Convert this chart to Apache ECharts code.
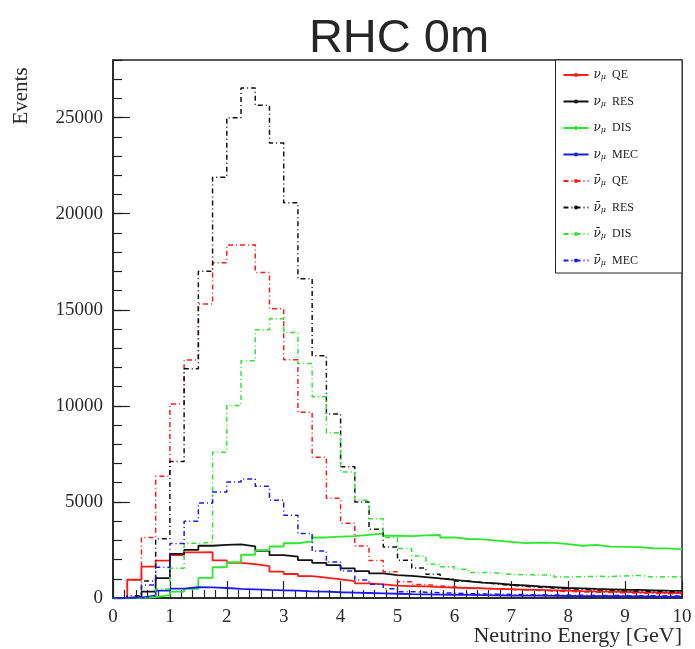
<!DOCTYPE html>
<html>
<head>
<meta charset="utf-8">
<script src="https://cdn.jsdelivr.net/npm/echarts/dist/echarts.min.js"></script>
<style>
  html, body { margin: 0; padding: 0; background: #ffffff; }
  #chart { width: 695px; height: 649px; }
</style>
</head>
<body>
<div id="chart"></div>
<script>
// Histogram binning: 40 bins of 0.25 GeV between 0 and 10 GeV
const BIN_WIDTH = 0.25;
const X_MIN = 0;
const X_MAX = 10;

// Event counts per bin, neutrino (solid) components
const numuQE = [0, 950, 1630, 1950, 2230, 2370, 2380, 1960, 1830, 1760,
  1660, 1370, 1250, 1140, 1055, 970, 880, 760, 710, 640,
  620, 600, 570, 540, 520, 500, 480, 460, 440, 420,
  400, 380, 360, 350, 330, 320, 300, 290, 270, 260];
const numuRES = [0, 60, 330, 1030, 2300, 2500, 2720, 2760, 2790, 2690,
  2460, 2230, 2150, 1970, 1830, 1710, 1540, 1400, 1280, 1190,
  1150, 1090, 1020, 940, 860, 800, 760, 690, 650, 600,
  560, 520, 500, 470, 450, 430, 420, 400, 380, 370];
const numuDIS = [0, 10, 50, 150, 330, 480, 1050, 1600, 1860, 2250,
  2480, 2680, 2850, 2950, 3150, 3190, 3220, 3290, 3350, 3240,
  3220, 3260, 3280, 3150, 3070, 3050, 2990, 2920, 2860, 2880,
  2870, 2800, 2720, 2760, 2670, 2660, 2650, 2590, 2580, 2530];
const numuMEC = [0, 20, 120, 380, 490, 560, 550, 520, 480, 450,
  420, 400, 380, 350, 330, 300, 280, 260, 240, 220,
  200, 190, 180, 170, 160, 150, 140, 130, 125, 120,
  110, 105, 100, 95, 90, 85, 80, 75, 70, 65];

// Event counts per bin, antineutrino (dash-dotted) components
const numubarQE = [0, 950, 3150, 6330, 10100, 12390, 15300, 17450, 18370, 18380,
  16940, 15050, 12400, 9670, 7330, 5190, 3890, 2700, 1950, 1370,
  850, 700, 620, 580, 540, 500, 470, 440, 420, 390,
  360, 340, 320, 300, 290, 270, 260, 240, 230, 220];
const numubarRES = [0, 120, 880, 3080, 7100, 11930, 17000, 21900, 25000, 26540,
  25640, 23680, 20570, 16620, 12610, 9580, 6830, 5000, 3580, 2660,
  1970, 1560, 1230, 1000, 880, 800, 730, 660, 610, 560,
  520, 480, 450, 420, 400, 380, 360, 340, 330, 310];
const numubarDIS = [0, 0, 60, 470, 1550, 2850, 2900, 7590, 10020, 12350,
  13960, 14530, 13820, 12200, 10480, 8600, 6560, 5090, 4120, 3150,
  2580, 2180, 1760, 1630, 1490, 1330, 1300, 1230, 1210, 1200,
  1200, 1090, 1110, 1130, 1120, 1150, 1170, 1090, 1110, 1090];
const numubarMEC = [0, 60, 680, 1600, 2840, 4000, 4950, 5520, 6040, 6190,
  5810, 5090, 4310, 3360, 2440, 1880, 1400, 935, 710, 480,
  330, 300, 270, 250, 230, 210, 200, 185, 175, 165,
  155, 150, 140, 135, 130, 125, 120, 115, 110, 105];

// Axis ticks
const xTicks = [0, 1, 2, 3, 4, 5, 6, 7, 8, 9, 10];
const yTicks = [0, 5000, 10000, 15000, 20000, 25000];
const Y_MAX = 28000;

const seriesNames = ['numu QE', 'numu RES', 'numu DIS', 'numu MEC',
  'numubar QE', 'numubar RES', 'numubar DIS', 'numubar MEC'];
const seriesValues = [numuQE, numuRES, numuDIS, numuMEC,
  numubarQE, numubarRES, numubarDIS, numubarMEC];
const seriesColors = ['#ff1a1a', '#111111', '#2ee62e', '#1a1aee',
  '#ff1a1a', '#111111', '#2ee62e', '#1a1aee'];
const legendText = {
  'numu QE': '{n|ν}{s|μ} QE',
  'numu RES': '{n|ν}{s|μ} RES',
  'numu DIS': '{n|ν}{s|μ} DIS',
  'numu MEC': '{n|ν}{s|μ} MEC',
  'numubar QE': '{n|ν\u0304}{s|μ} QE',
  'numubar RES': '{n|ν\u0304}{s|μ} RES',
  'numubar DIS': '{n|ν\u0304}{s|μ} DIS',
  'numubar MEC': '{n|ν\u0304}{s|μ} MEC'
};

// Turn per-bin contents into step-line points at the lower bin edges
function histPoints(values) {
  const pts = values.map((v, i) => [X_MIN + i * BIN_WIDTH, v]);
  pts.push([X_MAX, values[values.length - 1]]);
  return pts;
}

const SERIF = 'Liberation Serif';
const series = seriesNames.map((name, i) => {
  const dashed = name.indexOf('numubar') === 0;
  return {
    name: name,
    type: 'line',
    step: 'end',
    data: histPoints(seriesValues[i]),
    xAxisIndex: 0,
    yAxisIndex: 0,
    symbol: 'circle',
    symbolSize: 4,
    showSymbol: false,
    clip: true,
    color: seriesColors[i],
    lineStyle: {
      color: seriesColors[i],
      width: dashed ? 1.5 : 1.8,
      type: dashed ? [5, 3, 1, 3] : 'solid'
    },
    itemStyle: { color: seriesColors[i] },
    emphasis: { disabled: true }
  };
});

const chart = echarts.init(document.getElementById('chart'), null, { renderer: 'canvas' });
chart.setOption({
  animation: false,
  backgroundColor: '#ffffff',
  title: {
    text: 'RHC 0m',
    left: 394,
    textAlign: 'center',
    top: 11,
    textStyle: {
      fontFamily: 'Liberation Sans',
      fontSize: 47,
      fontWeight: 'normal',
      color: '#262626'
    }
  },
  grid: {
    left: 113, right: 13, top: 60, bottom: 51,
    show: true,
    borderColor: '#222222',
    borderWidth: 1.5,
    backgroundColor: 'transparent'
  },
  legend: {
    orient: 'vertical',
    right: 13,
    top: 60,
    itemWidth: 25,
    itemHeight: 5,
    itemGap: 14.5,
    padding: [9, 44, 6.5, 7],
    backgroundColor: '#ffffff',
    borderColor: '#222222',
    borderWidth: 1,
    selectedMode: false,
    data: seriesNames,
    formatter: name => legendText[name],
    textStyle: {
      fontFamily: SERIF,
      fontSize: 12,
      color: '#222222',
      rich: {
        n: { fontFamily: 'DejaVu Serif', fontStyle: 'italic', fontSize: 12, color: '#222222' },
        s: { fontFamily: 'DejaVu Serif', fontStyle: 'italic', fontSize: 8, color: '#222222',
             verticalAlign: 'bottom', padding: [0, 3, 0, 0] }
      }
    }
  },
  xAxis: {
    type: 'value',
    min: X_MIN,
    max: X_MAX,
    interval: 1,
    axisLine: { show: true, onZero: false, lineStyle: { color: '#222222', width: 1.5 } },
    axisTick: { show: true, inside: true, length: 17, lineStyle: { color: '#222222', width: 1.2 } },
    minorTick: { show: true, splitNumber: 5, length: 8, lineStyle: { color: '#222222', width: 1.2 } },
    splitLine: { show: false },
    axisLabel: {
      margin: 10,
      fontFamily: SERIF,
      fontSize: 19,
      color: '#2a2a2a',
      formatter: v => (xTicks.indexOf(v) >= 0 ? String(v) : '')
    }
  },
  yAxis: [
    {
      type: 'value',
      min: 0,
      max: Y_MAX,
      interval: 5000,
      position: 'left',
      axisLine: { show: true, onZero: false, lineStyle: { color: '#222222', width: 1.5 } },
      axisTick: { show: true, inside: true, length: 17, lineStyle: { color: '#222222', width: 1.2 } },
      splitLine: { show: false },
      axisLabel: {
        margin: 10,
        showMaxLabel: false,
        fontFamily: SERIF,
        fontSize: 19,
        color: '#2a2a2a',
        formatter: v => (yTicks.indexOf(v) >= 0 ? String(v) : '')
      }
    },
    {
      type: 'value',
      min: 0,
      max: Y_MAX,
      interval: 1000,
      position: 'left',
      axisLine: { show: false },
      axisTick: { show: true, inside: true, length: 9, lineStyle: { color: '#222222', width: 1.2 } },
      splitLine: { show: false },
      axisLabel: { show: false }
    }
  ],
  graphic: [
    {
      type: 'text',
      x: 21,
      y: 96,
      rotation: Math.PI / 2,
      style: {
        text: 'Events',
        fontFamily: SERIF,
        fontSize: 21,
        fill: '#2a2a2a',
        align: 'center',
        verticalAlign: 'middle'
      }
    },
    {
      type: 'text',
      x: 682,
      y: 636,
      style: {
        text: 'Neutrino Energy [GeV]',
        fontFamily: SERIF,
        fontSize: 22,
        fill: '#2a2a2a',
        align: 'right',
        verticalAlign: 'middle'
      }
    }
  ],
  series: series
});
</script>
</body>
</html>
